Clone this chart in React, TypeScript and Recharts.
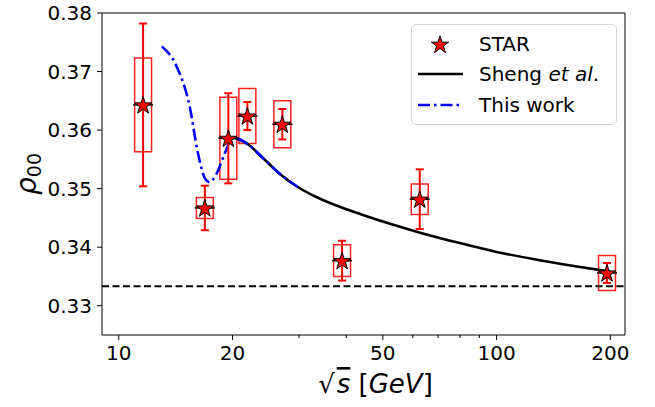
import React from "react";
import {
  ComposedChart,
  Line,
  Scatter,
  ErrorBar,
  XAxis,
  YAxis,
  ReferenceLine,
  ReferenceArea,
} from "recharts";

// STAR data
const STAR_X = [11.6, 16.9, 19.5, 21.9, 27.1, 39, 62.6, 196];
const STAR_Y = [0.3643, 0.3467, 0.3586, 0.3624, 0.361, 0.3377, 0.3482, 0.3356];
const STAR_STAT = [0.0139, 0.0038, 0.0077, 0.0024, 0.0026, 0.0034, 0.0051, 0.0017];
const STAR_SYS = [0.008, 0.0018, 0.007, 0.0047, 0.004, 0.0027, 0.0026, 0.003];

// Sheng et al. curve
const SHENG_X = [20.2, 21.9, 24, 26.9, 29.5, 33.1, 37.2, 43.7, 52.5, 63.1, 79.4, 100, 125.9, 158.5, 200];
const SHENG_Y = [0.3587, 0.35765, 0.35533, 0.35233, 0.35045, 0.34865, 0.34725, 0.34564, 0.34396, 0.34244, 0.34074, 0.33919, 0.33794, 0.33684, 0.33583];

// This work
const WORK_X = [13, 14.2, 15.4, 16.2, 16.9, 17.4, 18.1, 19.1, 19.6, 20.2, 21.9, 24, 26.9, 29.5, 29.8];
const WORK_Y = [0.3743, 0.371, 0.3641, 0.3561, 0.3518, 0.3511, 0.3524, 0.3561, 0.3578, 0.3587, 0.35765, 0.35533, 0.35233, 0.35045, 0.35024];

const X_TICKS = [10, 20, 30, 40, 50, 60, 70, 80, 90, 100, 200];
const X_MAJOR = [10, 20, 50, 100, 200];
const Y_TICKS = [0.33, 0.34, 0.35, 0.36, 0.37, 0.38];
const X_DOMAIN = [9.03, 218.7];
const Y_DOMAIN = [0.325, 0.38];
const UNITARY = 1 / 3;

const BOX_FACTOR = 1.053;
const FONT = "'DejaVu Sans', sans-serif";

const starData = STAR_X.map((x, i) => ({ x, y: STAR_Y[i], stat: STAR_STAT[i], sys: STAR_SYS[i] }));
const shengData = SHENG_X.map((x, i) => ({ x, y: SHENG_Y[i] }));
const workData = WORK_X.map((x, i) => ({ x, y: WORK_Y[i] }));

function starPath(cx: number, cy: number, r: number) {
  const inner = r * 0.381966;
  const pts: string[] = [];
  for (let k = 0; k < 10; k++) {
    const rad = k % 2 === 0 ? r : inner;
    const a = (Math.PI / 5) * k - Math.PI / 2;
    pts.push(`${(cx + rad * Math.cos(a)).toFixed(2)},${(cy + rad * Math.sin(a)).toFixed(2)}`);
  }
  return "M" + pts.join("L") + "Z";
}

const StarShape = (props: any) => {
  const { cx, cy } = props;
  if (cx == null || cy == null) return null;
  return (
    <g>
      <line x1={cx - 10} x2={cx + 10} y1={cy} y2={cy} stroke="#000" strokeWidth={1.5} />
      <path d={starPath(cx, cy + 0.8, 9.2)} fill="#ff0000" stroke="#000" strokeWidth={1} />
    </g>
  );
};

const XTick = (props: any) => {
  const { x, y, payload } = props;
  const major = X_MAJOR.includes(payload.value);
  const y0 = y - 10;
  return (
    <g>
      <line x1={x} x2={x} y1={y0} y2={y0 + (major ? 5 : 3)} stroke="#000" strokeWidth={1} />
      {major && (
        <text x={x} y={y} dy="0.76em" textAnchor="middle" fontSize={20} fontFamily={FONT} fill="#000">
          {payload.value}
        </text>
      )}
    </g>
  );
};

const XLabel = (props: any) => {
  const vb = props.viewBox || {};
  const cx = vb.x + vb.width / 2 + 12;
  return (
    <text x={cx} y={vb.y + 58} textAnchor="middle" fontSize={26} fontFamily={FONT} fill="#000">
      <tspan>√</tspan>
      <tspan fontStyle="italic" textDecoration="overline" dx={2}>s</tspan>
      <tspan> [</tspan>
      <tspan fontStyle="italic">GeV</tspan>
      <tspan>]</tspan>
    </text>
  );
};

const YLabel = (props: any) => {
  const vb = props.viewBox || {};
  const cy = vb.y + vb.height / 2;
  const x = 36;
  return (
    <text x={x} y={cy} transform={`rotate(-90, ${x}, ${cy})`} textAnchor="middle" fontSize={28} fontFamily={FONT} fill="#000">
      <tspan fontStyle="italic">ρ</tspan>
      <tspan fontSize={19} dy={5}>00</tspan>
    </text>
  );
};

const Legend = () => {
  const row = (top: number, icon: React.ReactNode, label: React.ReactNode) => (
    <div style={{ position: "absolute", left: 0, top: top - 15, height: 30, width: "100%" }}>
      <svg width={60} height={30} style={{ position: "absolute", left: 0, top: 0 }}>
        {icon}
      </svg>
      <div style={{ position: "absolute", left: 67, top: 0, lineHeight: "30px", whiteSpace: "nowrap" }}>{label}</div>
    </div>
  );
  return (
    <div
      style={{
        position: "absolute",
        left: 411,
        top: 24,
        width: 204,
        height: 99,
        border: "1px solid #d4d4d4",
        borderRadius: 5,
        background: "rgba(255,255,255,0.85)",
        fontFamily: FONT,
        fontSize: 20,
        color: "#000",
      }}
    >
      {row(19, <path d={starPath(28, 16, 9.2)} fill="#ff0000" stroke="#000" strokeWidth={1} />, "STAR")}
      {row(49, <line x1={6} x2={51} y1={15} y2={15} stroke="#000" strokeWidth={2.6} />, (
        <span>
          Sheng <i>et al</i>.
        </span>
      ))}
      {row(80, <line x1={6} x2={51} y1={15} y2={15} stroke="#0000ff" strokeWidth={2.6} strokeDasharray="12 4 2.5 4" />, "This work")}
    </div>
  );
};

export default function App() {
  return (
    <div style={{ position: "absolute", left: 0, top: 0, width: 655, height: 407, background: "#fff" }}>
      <ComposedChart width={655} height={407} margin={{ top: 13, right: 30, bottom: 32, left: 0 }}>
        <XAxis
          type="number"
          dataKey="x"
          scale="log"
          domain={X_DOMAIN}
          allowDataOverflow
          ticks={X_TICKS}
          interval={0}
          tick={<XTick />}
          tickLine={false}
          tickSize={5}
          tickMargin={5}
          height={40}
          axisLine={{ stroke: "#000", strokeWidth: 1 }}
          label={{ content: <XLabel /> } as any}
        />
        <YAxis
          type="number"
          domain={Y_DOMAIN}
          allowDataOverflow
          ticks={Y_TICKS}
          interval={0}
          tickFormatter={(v: number) => v.toFixed(2)}
          tick={{ fontSize: 20, fontFamily: FONT, fill: "#000" }}
          tickLine={{ stroke: "#000", strokeWidth: 1 }}
          tickSize={5}
          tickMargin={5}
          width={102}
          axisLine={{ stroke: "#000", strokeWidth: 1 }}
          label={{ content: <YLabel /> } as any}
        />
        {/* frame: top and right spines */}
        <ReferenceLine y={Y_DOMAIN[1]} stroke="#000" strokeWidth={1} ifOverflow="visible" />
        <ReferenceLine x={X_DOMAIN[1]} stroke="#000" strokeWidth={1} ifOverflow="visible" />
        <ReferenceLine y={UNITARY} stroke="#000" strokeWidth={2} strokeDasharray="7 3.5" />
        {starData.map((d, i) => (
          <ReferenceArea
            key={i}
            x1={d.x / BOX_FACTOR}
            x2={d.x * BOX_FACTOR}
            y1={d.y - d.sys}
            y2={d.y + d.sys}
            fill="none"
            fillOpacity={0}
            stroke="#ff2020"
            strokeWidth={1.5}
            ifOverflow="visible"
          />
        ))}
        <Line
          data={shengData}
          dataKey="y"
          type="monotone"
          stroke="#000"
          strokeWidth={2.6}
          dot={false}
          isAnimationActive={false}
        />
        <Line
          data={workData}
          dataKey="y"
          type="monotone"
          stroke="#0000ff"
          strokeWidth={2.6}
          strokeDasharray="12 4 2.5 4"
          dot={false}
          isAnimationActive={false}
        />
        <Scatter data={starData} dataKey="y" shape={<StarShape />} isAnimationActive={false}>
          <ErrorBar dataKey="stat" direction="y" width={4} stroke="#ff0000" strokeWidth={2} />
        </Scatter>
      </ComposedChart>
      <Legend />
    </div>
  );
}
